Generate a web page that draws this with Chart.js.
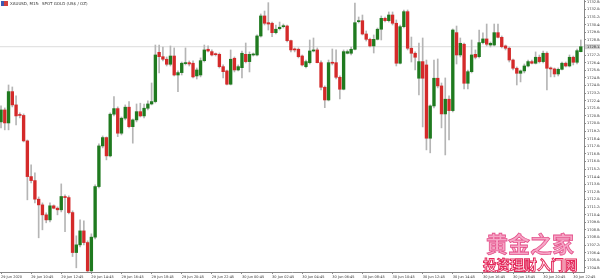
<!DOCTYPE html>
<html><head><meta charset="utf-8">
<script src="https://cdn.jsdelivr.net/npm/chart.js@4.4.0/dist/chart.umd.min.js"></script>
<style>
html,body{margin:0;padding:0;background:#fff;}
#wrap{position:relative;width:600px;height:280px;overflow:hidden;}
#c{position:absolute;left:0;top:0;}
#title{position:absolute;left:1px;top:1px;font:4px "DejaVu Sans",sans-serif;color:#333;white-space:nowrap;display:flex;align-items:center;line-height:5px;}
#title .ic{display:inline-block;width:7px;height:5px;margin-right:2px;background:linear-gradient(90deg,#3b5bb5 0 50%,#d04040 50% 100%);}
#wm1{position:absolute;left:486px;top:231px;font:bold 22px "Noto Sans CJK SC";color:#f6a6c6;-webkit-text-stroke:0.8px #e4508a;line-height:1;white-space:nowrap;}
#wm2{position:absolute;left:483px;top:258px;font:bold 13.5px "Noto Sans CJK SC";color:#fff;-webkit-text-stroke:1px #e42a5c;line-height:1;white-space:nowrap;}
</style></head>
<body>
<div id="wrap">
<canvas id="c" width="600" height="280"></canvas>
<div id="title"><span class="ic"></span>XAUUSD, M15:&nbsp; SPOT GOLD (US$ / OZ)</div>
<div id="wm1">黄金之家</div>
<div id="wm2">投资理财入门网</div>
</div>
<script>
const opens = [1720.21,1721.47,1720.10,1723.40,1722.00,1720.95,1720.89,1718.21,1714.45,1714.03,
1712.07,1711.47,1710.42,1709.89,1711.37,1711.12,1710.95,1712.35,1712.24,1710.66,
1706.45,1707.26,1708.73,1707.50,1704.52,1708.07,1713.40,1717.68,1718.56,1716.63,
1721.02,1721.61,1719.02,1720.60,1721.76,1719.71,1720.42,1721.29,1720.84,1721.65,
1722.10,1722.35,1727.54,1727.08,1726.81,1726.28,1727.15,1725.15,1725.40,1726.35,
1726.45,1726.39,1725.05,1725.15,1726.66,1727.86,1727.61,1727.33,1727.33,1726.03,
1725.58,1724.18,1726.91,1725.68,1725.92,1727.33,1726.56,1727.26,1727.26,1729.26,
1731.37,1730.66,1730.60,1729.61,1730.03,1730.24,1730.31,1728.77,1727.86,1727.86,
1727.15,1726.03,1726.45,1727.68,1727.79,1726.45,1723.86,1722.52,1726.45,1726.45,
1724.91,1723.65,1727.44,1727.44,1727.86,1730.77,1730.87,1729.47,1728.91,1728.21,
1728.91,1729.97,1731.12,1730.87,1731.47,1730.60,1726.39,1730.24,1731.82,1727.97,
1727.44,1724.81,1726.56,1726.21,1718.49,1721.89,1724.81,1724.00,1721.05,1722.60,
1721.40,1729.61,1727.26,1728.39,1724.28,1725.50,1727.33,1727.08,1728.56,1728.95,
1728.31,1728.31,1729.61,1729.12,1728.21,1727.97,1726.73,1725.86,1725.33,1725.58,
1726.10,1726.56,1726.39,1727.02,1726.56,1727.44,1725.86,1725.79,1725.26,1725.75,
1726.39,1726.10,1727.02,1726.49,1727.61];
const highs = [1721.89,1721.68,1724.10,1723.89,1722.95,1721.16,1721.05,1718.31,1715.68,1714.84,
1712.31,1711.68,1710.63,1711.68,1711.47,1711.26,1713.68,1712.52,1712.42,1710.84,
1708.21,1709.89,1709.79,1707.68,1708.42,1713.58,1717.89,1718.73,1718.63,1721.16,
1722.87,1721.79,1720.73,1722.00,1722.35,1720.52,1722.10,1722.18,1722.10,1722.42,
1724.31,1728.31,1728.31,1728.10,1727.05,1728.21,1728.00,1725.58,1726.52,1728.00,
1726.63,1726.63,1725.89,1726.95,1728.31,1728.21,1727.79,1727.47,1727.47,1726.21,
1725.68,1727.79,1727.05,1726.21,1727.68,1728.52,1727.58,1727.47,1729.37,1731.58,
1731.89,1732.77,1730.73,1730.42,1730.73,1730.52,1730.42,1728.84,1728.00,1728.00,
1727.26,1726.73,1728.84,1729.05,1728.00,1726.63,1724.00,1726.73,1727.89,1727.79,
1725.05,1727.79,1727.79,1728.10,1732.73,1731.26,1731.47,1729.79,1729.05,1729.37,
1730.10,1731.37,1731.26,1731.79,1731.79,1730.95,1730.42,1732.00,1732.00,1729.15,
1727.58,1728.52,1729.05,1726.73,1722.00,1726.73,1726.84,1724.31,1724.84,1722.95,
1730.00,1730.31,1729.05,1728.52,1725.68,1728.84,1727.79,1729.89,1729.58,1730.52,
1728.63,1730.52,1730.52,1729.26,1728.31,1728.10,1726.84,1726.00,1725.68,1726.31,
1726.73,1726.73,1727.58,1727.26,1727.68,1727.58,1726.00,1725.89,1725.89,1726.52,
1726.52,1727.26,1727.15,1727.89,1728.84];
const lows = [1719.58,1719.37,1719.37,1721.79,1719.89,1720.63,1718.10,1712.00,1713.79,1711.68,
1708.00,1708.84,1709.58,1709.68,1711.05,1710.42,1710.73,1708.66,1710.52,1706.03,
1704.84,1707.05,1707.26,1704.42,1704.37,1707.89,1713.26,1717.47,1716.21,1716.52,
1720.84,1718.66,1718.84,1720.42,1719.58,1717.97,1720.21,1720.73,1720.63,1721.47,
1722.00,1722.21,1725.37,1726.63,1726.10,1726.10,1725.05,1723.40,1725.15,1726.21,
1726.10,1724.84,1724.73,1724.95,1726.52,1727.58,1727.15,1727.15,1725.89,1724.84,
1724.10,1724.10,1725.47,1725.58,1724.84,1726.42,1725.47,1727.15,1727.15,1729.15,
1730.42,1729.89,1729.19,1729.47,1729.89,1730.10,1728.63,1727.58,1727.58,1726.95,
1726.10,1725.89,1726.31,1727.58,1726.42,1723.58,1721.71,1722.42,1726.21,1724.73,
1722.63,1723.58,1727.37,1727.26,1727.79,1730.63,1729.37,1728.73,1728.10,1727.47,
1728.84,1728.84,1730.73,1730.73,1730.42,1726.10,1726.31,1730.10,1727.79,1726.52,
1725.68,1723.05,1719.68,1717.26,1716.95,1721.68,1723.79,1719.58,1716.73,1718.31,
1721.26,1726.31,1727.05,1723.68,1723.68,1725.37,1726.84,1726.95,1728.42,1728.21,
1728.10,1728.21,1729.05,1728.00,1727.79,1726.52,1725.68,1724.10,1724.42,1725.37,
1726.00,1726.31,1726.31,1726.42,1726.42,1723.58,1724.95,1724.95,1725.05,1725.68,
1726.00,1726.00,1726.21,1726.31,1727.58];
const closes = [1721.47,1720.10,1723.40,1722.00,1720.84,1720.89,1718.21,1714.45,1714.03,1712.07,
1711.47,1710.42,1709.89,1711.37,1711.12,1710.95,1712.35,1712.24,1710.66,1706.45,
1707.26,1708.73,1707.50,1704.52,1708.07,1713.40,1717.68,1718.56,1716.63,1721.02,
1721.61,1719.02,1720.60,1721.76,1719.71,1720.42,1721.29,1720.84,1721.65,1722.10,
1722.35,1727.26,1727.08,1726.81,1726.28,1727.15,1725.15,1725.40,1726.39,1726.45,
1726.31,1724.95,1725.68,1726.66,1727.79,1727.68,1727.26,1727.29,1726.03,1725.50,
1724.18,1726.81,1725.68,1726.03,1727.44,1726.56,1727.33,1727.29,1729.26,1731.37,
1730.60,1730.52,1729.61,1729.97,1730.18,1730.31,1728.77,1727.79,1727.79,1727.08,
1726.21,1726.56,1727.68,1727.79,1726.45,1723.86,1722.52,1726.45,1726.39,1724.91,
1723.65,1727.61,1727.61,1727.86,1730.66,1730.87,1729.47,1728.91,1728.21,1728.91,
1729.97,1731.12,1730.87,1731.47,1730.60,1726.39,1730.24,1731.82,1727.97,1727.44,
1727.02,1726.56,1724.81,1718.49,1721.89,1724.81,1724.00,1721.05,1722.60,1721.40,
1729.89,1727.26,1728.49,1724.28,1725.50,1727.26,1727.02,1728.56,1728.95,1728.39,
1728.49,1729.61,1729.12,1728.13,1727.97,1726.73,1725.86,1725.33,1725.58,1726.10,
1726.56,1726.39,1727.02,1726.56,1727.44,1725.86,1725.79,1725.26,1725.75,1726.39,
1726.10,1727.02,1726.49,1727.71,1728.13];

const xTickIdx = [0,8,16,24,32,40,48,56,64,72,80,88,96,104,112,120,128,136,144,152];
const xTickLabels = ["29 Jun 2020","29 Jun 10:45","29 Jun 12:45","29 Jun 14:45","29 Jun 16:45",
"29 Jun 18:45","29 Jun 20:45","29 Jun 22:45","30 Jun 00:45","30 Jun 02:45","30 Jun 04:45",
"30 Jun 06:45","30 Jun 08:45","30 Jun 10:45","30 Jun 12:45","30 Jun 14:45","30 Jun 16:45",
"30 Jun 18:45","30 Jun 20:45","30 Jun 22:45"];
const yTicks = [1704.84,1705.64,1706.44,1707.24,1708.04,1708.84,1709.64,1710.44,1711.24,1712.04,
1712.84,1713.64,1714.44,1715.24,1716.04,1716.84,1717.64,1718.44,1719.24,1720.04,
1720.84,1721.64,1722.44,1723.24,1724.04,1724.84,1725.64,1726.44,1727.24,1728.04,
1728.84,1729.64,1730.44,1731.24,1732.04,1732.84];

const xMin = -0.27, xMax = 154.85, yMin = 1704.40, yMax = 1733.05;
const GREEN = '#1f7a1f', RED = '#d42a2a', WICK = '#b5b5b5';
const last = closes[closes.length - 1];

const bodies = opens.map((o, i) => ({x: i, y: [o, closes[i]]}));
const wicks = lows.map((l, i) => ({x: i, y: [l, highs[i]]}));
const bodyColors = opens.map((o, i) => closes[i] >= o ? GREEN : RED);

const priceTag = {
  id: 'priceTag',
  afterDraw(chart) {
    const ys = chart.scales.y, ctx = chart.ctx;
    const py = ys.getPixelForValue(last);
    ctx.save();
    ctx.fillStyle = '#cfcfcf';
    ctx.fillRect(ys.left + 1, py - 2.5, ys.width - 1, 5);
    ctx.fillStyle = '#222';
    ctx.font = '3.5px "DejaVu Sans"';
    ctx.textBaseline = 'middle';
    ctx.textAlign = 'left';
    ctx.fillText(last.toFixed(2), ys.left + 3, py);
    ctx.restore();
  }
};

new Chart(document.getElementById('c'), {
  type: 'bar',
  data: {
    datasets: [
      {type: 'bar', data: bodies, backgroundColor: bodyColors, barThickness: 2.7, minBarLength: 1, borderWidth: 0, order: 0},
      {type: 'bar', data: wicks, backgroundColor: WICK, barThickness: 1, borderWidth: 0, order: 1},
      {type: 'line', data: [{x: xMin, y: last}, {x: xMax, y: last}], borderColor: '#dcdcdc', borderWidth: 1, pointRadius: 0, order: 2}
    ]
  },
  options: {
    responsive: false,
    animation: false,
    events: [],
    layout: {padding: 0},
    plugins: {legend: {display: false}, tooltip: {enabled: false}},
    datasets: {bar: {grouped: false}},
    scales: {
      x: {
        type: 'linear', min: xMin, max: xMax, offset: false,
        afterBuildTicks(s) { s.ticks = xTickIdx.map(v => ({value: v})); },
        afterFit(s) { s.height = 8; s.paddingLeft = 0; s.paddingRight = 0; },
        ticks: {autoSkip: false, maxRotation: 0, minRotation: 0, align: 'start', padding: 1,
          font: {size: 3.5, family: 'DejaVu Sans'}, color: '#333',
          callback: (v, i) => xTickLabels[i]},
        grid: {drawOnChartArea: false, offset: false, tickLength: 2, color: '#888'},
        border: {color: '#888'}
      },
      y: {
        position: 'right', min: yMin, max: yMax,
        afterBuildTicks(s) { s.ticks = yTicks.map(v => ({value: v})); },
        afterFit(s) { s.width = 16; s.paddingTop = 0; s.paddingBottom = 0; },
        ticks: {autoSkip: false, padding: 1, font: {size: 3.5, family: 'DejaVu Sans'}, color: '#333',
          callback: v => v.toFixed(2)},
        grid: {drawOnChartArea: false, tickLength: 2, color: '#888'},
        border: {color: '#888'}
      }
    }
  },
  plugins: [priceTag]
});
</script>
</body></html>
